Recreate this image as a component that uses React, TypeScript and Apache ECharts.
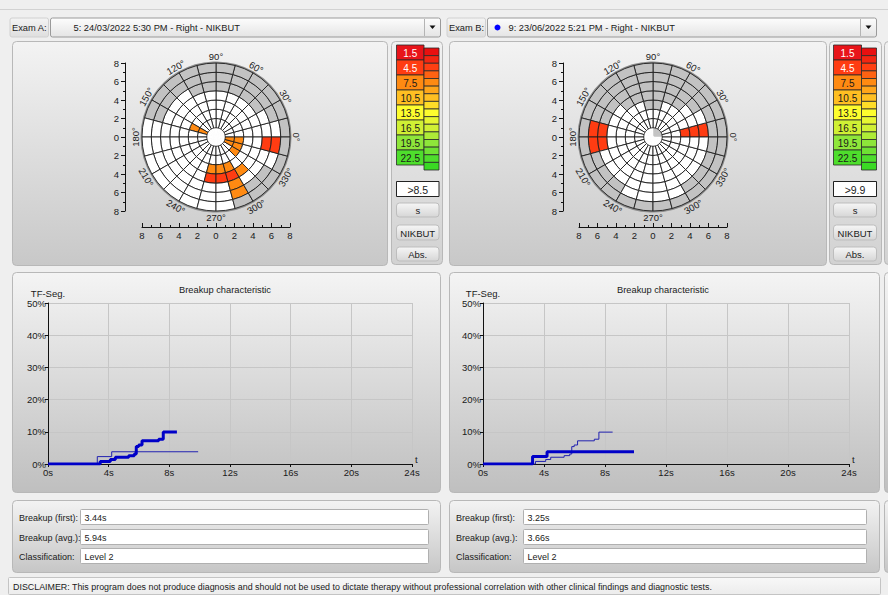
import React, { useEffect, useRef } from 'react';
import * as echarts from 'echarts';

const FONT = '"Liberation Sans", Arial, sans-serif';
const GRAY = '#c2c2c2';
const WHITE = '#ffffff';
const RINGS = 7;

// ---- colour scale (breakup time, s) ----
const scaleLabels = ['1.5', '4.5', '7.5', '10.5', '13.5', '16.5', '19.5', '22.5'];
const scaleColors = ['#e8141a', '#ff3c12', '#ff8a12', '#ffbf22', '#fdfd2e', '#d0f034', '#8ee63a', '#4ede2c'];
const stripColors = ['#e81010', '#f22612', '#ff3f12', '#ff6212', '#ff8a12', '#ffa51a', '#ffbf22', '#ffdd28',
  '#fdfd2e', '#e6f632', '#d0f034', '#aeeb37', '#8ee63a', '#6ee233', '#4ede2c', '#3ada24'];

// ---- map geometry: 24 sectors of 15 degrees ----
const sectorNames = ['0°', '15°', '30°', '45°', '60°', '75°', '90°', '105°', '120°', '135°', '150°', '165°',
  '180°', '195°', '210°', '225°', '240°', '255°', '270°', '285°', '300°', '315°', '330°', '345°'];
const angleLabels = [0, 30, 60, 90, 120, 150, 180, 210, 240, 270, 300, 330];

// Exam A map: number of outer rings not measured (gray) per sector, breakup cells [sector, ring, seconds]
const grayOuterA = [1, 2, 3, 3, 3, 3, 3, 3, 2, 2, 2, 0, 0, 0, 0, 0, 0, 0, 0, 1, 2, 2, 1, 1];
const hotCellsA = [
  [23, 4, 4.2], [23, 5, 4.3], [23, 0, 7.0], [23, 1, 7.1], [22, 0, 7.2], [22, 1, 7.3], [21, 1, 7.4],
  [10, 0, 7.5], [10, 1, 7.6], [17, 2, 6.5], [18, 2, 6.6], [17, 3, 3.5], [18, 3, 3.6],
  [19, 2, 6.7], [19, 3, 5.5], [19, 4, 6.9], [19, 5, 8.5], [20, 3, 7.0],
];
const coreGrayA: number[] = [];

// Exam B map
const grayOuterB = [2, 2, 3, 4, 4, 5, 5, 4, 4, 3, 3, 1, 1, 2, 2, 2, 1, 1, 1, 1, 2, 2, 2, 2];
const hotCellsB = [[0, 2, 4.4], [0, 3, 4.5], [0, 4, 4.6], [11, 4, 3.8], [11, 5, 3.9], [12, 4, 3.8], [12, 5, 3.9]];
const coreGrayB = [0, 1, 2, 3, 4, 5];

// ---- breakup characteristic (time s, TF-segments %) ----
const timeA = [0, 3.44, 4.11, 4.44, 5.32, 5.69, 5.82, 5.98, 6.2, 7.3, 7.6, 8.5];
const pctA = [0, 0.8, 1.4, 2.1, 2.6, 3.1, 5.4, 5.9, 7.2, 7.7, 9.9, 9.9];
const timeB = [0, 3.25, 4.2, 9.9];
const pctB = [0, 2.3, 3.8, 3.8];

// ---- info ----
const infoLabels = ['Breakup (first):', 'Breakup (avg.):', 'Classification:'];
const infoA = ['3.44s', '5.94s', 'Level 2'];
const infoB = ['3.25s', '3.66s', 'Level 2'];
const examA = '5: 24/03/2022 5:30 PM - Right - NIKBUT';
const examB = '9: 23/06/2022 5:21 PM - Right - NIKBUT';
const thresholdA = '>8.5';
const thresholdB = '>9.9';
const disclaimer = 'DISCLAIMER: This program does not produce diagnosis and should not be used to dictate therapy without professional correlation with other clinical findings and diagnostic tests.';

function grad(top: string, bottom: string) {
  return new echarts.graphic.LinearGradient(0, 0, 0, 1, [
    { offset: 0, color: top },
    { offset: 1, color: bottom },
  ]);
}

function rect(x: number, y: number, w: number, h: number, fill: any, stroke: string, r = 3, z = -10, lw = 1) {
  return { type: 'rect', z, silent: true, shape: { x, y, width: w, height: h, r }, style: { fill, stroke, lineWidth: lw } };
}

function text(x: number, y: number, t: string, size = 9, align = 'left', fill = '#1a1a1a', z = 10) {
  return {
    type: 'text', z, silent: true, x, y,
    style: { text: t, font: `${size}px ${FONT}`, fill, align, textAlign: align, verticalAlign: 'middle', textVerticalAlign: 'middle' },
  };
}

function legendElements(x0: number, thr: string, bw: number) {
  const els: any[] = [];
  const top = 45;
  const bh = 15;
  scaleLabels.forEach((lab, i) => {
    els.push(rect(x0, top + i * bh, bw, bh, scaleColors[i], '#2a2a2a', 0, -4, 0.8));
    els.push(text(x0 + bw / 2, top + i * bh + bh / 2 + 0.5, lab, 10, 'center', i < 2 ? '#ffffff' : '#1a1a1a'));
  });
  const sh = 7.625;
  stripColors.forEach((c, i) => els.push(rect(x0 + bw, 48 + i * sh, 15, sh, c, '#2a2a2a', 0, -4, 0.8)));
  const fw = bw + 15;
  els.push(rect(x0, 181.5, fw, 15, '#ffffff', '#222222', 0, -4, 1));
  els.push(text(x0 + fw / 2, 189.5, thr, 10.5, 'center'));
  const buttons: [string, number, number][] = [['s', 203, 14], ['NIKBUT', 225, 15], ['Abs.', 247, 14]];
  buttons.forEach(([lab, y, h]) => {
    els.push(rect(x0, y, fw, h, grad('#f6f6f6', '#d6d6d6'), '#bdbdbd', 3, -4, 1));
    els.push(text(x0 + fw / 2, y + h / 2 + 0.5, lab, 9.5, 'center'));
  });
  return els;
}

function comboElements(lx: number, bx: number, bw: number, label: string, value: string, dot: boolean) {
  const els: any[] = [];
  els.push(rect(lx - 2, 18, bx - lx, 19, grad('#f4f4f4', '#dedede'), '#d0d0d0', 2, -6, 1));
  els.push(text(lx, 27.5, label, 9.3));
  els.push(rect(bx, 18, bw, 19, grad('#fdfdfd', '#e4e4e4'), '#9a9a9a', 2, -5, 1));
  const sepX = bx + bw - 16;
  els.push({ type: 'line', z: -4, silent: true, shape: { x1: sepX, y1: 19, x2: sepX, y2: 36 }, style: { stroke: '#b4b4b4', lineWidth: 1 } });
  const cx = sepX + 8;
  els.push({ type: 'polygon', z: -4, silent: true, shape: { points: [[cx - 3, 25.5], [cx + 3, 25.5], [cx, 29]] }, style: { fill: '#111111' } });
  if (dot) {
    els.push({ type: 'circle', z: -4, silent: true, shape: { cx: bx + 10, cy: 27.5, r: 3 }, style: { fill: '#0000ff' } });
    els.push(text(bx + 21, 27.5, value, 9.3));
  } else {
    els.push(text(bx + 23, 27.5, value, 9.3));
  }
  return els;
}

function infoElements(px: number, bx: number, bw: number, values: string[]) {
  const els: any[] = [];
  const ys = [509.5, 529.5, 548.5];
  infoLabels.forEach((lab, i) => {
    els.push(text(px, ys[i] + 8, lab, 9));
    els.push(rect(bx, ys[i], bw, 15, '#ffffff', '#b0b0b0', 1, -4, 1));
    els.push(text(bx + 4, ys[i] + 8, values[i], 9));
  });
  return els;
}

function cellSeries(polarIndex: number, grayOuter: number[], hot: number[][], coreGray: number[], stack: string) {
  const colorOf = (k: number, ring: number) => {
    const h = hot.find((c) => c[0] === k && c[1] === ring);
    if (h) return scaleColors[Math.min(7, Math.floor(h[2] / 3))];
    return ring >= RINGS - grayOuter[k] ? GRAY : WHITE;
  };
  const list: any[] = [];
  list.push({
    type: 'bar', coordinateSystem: 'polar', polarIndex, stack, barCategoryGap: '0%', silent: true,
    data: sectorNames.map((_, k) => {
      const c = coreGray.includes(k) ? GRAY : WHITE;
      return { value: 1, itemStyle: { color: c, borderColor: c, borderWidth: 0.5 } };
    }),
  });
  for (let ring = 0; ring < RINGS; ring++) {
    list.push({
      type: 'bar', coordinateSystem: 'polar', polarIndex, stack, barCategoryGap: '0%', silent: true,
      itemStyle: { borderColor: '#1e1e1e', borderWidth: 0.9 },
      data: sectorNames.map((_, k) => ({ value: 1, itemStyle: { color: colorOf(k, ring) } })),
    });
  }
  return list;
}

function labelSeries(polarIndex: number) {
  return {
    type: 'custom', coordinateSystem: 'polar', polarIndex, silent: true,
    data: angleLabels.map((a) => [8.7, a]),
    renderItem: (params: any, api: any) => {
      const r = api.value(0);
      const a = api.value(1);
      const p = api.coord([r, a]);
      const deg = a <= 180 ? a - 90 : a - 270;
      return {
        type: 'text', x: p[0], y: p[1], rotation: (deg * Math.PI) / 180,
        style: { text: a + '°', font: `9.5px ${FONT}`, fill: '#1a1a1a', align: 'center', verticalAlign: 'middle' },
      };
    },
  };
}

const frameAxisLabel = { fontSize: 9.5, color: '#1a1a1a', fontFamily: FONT, formatter: (v: number) => String(Math.abs(v)) };
const blk = { color: '#111111' };

function frameY(gridIndex: number) {
  return {
    gridIndex, type: 'value', min: -8, max: 8, interval: 2,
    axisLine: { show: true, lineStyle: blk }, axisTick: { show: true, length: 4, lineStyle: blk },
    minorTick: { show: true, splitNumber: 2, length: 2, lineStyle: blk },
    axisLabel: { ...frameAxisLabel, margin: 6 }, splitLine: { show: false },
  };
}
function frameX(gridIndex: number) {
  return {
    gridIndex, type: 'value', min: -8, max: 8, interval: 2, position: 'bottom',
    axisLine: { show: true, lineStyle: blk }, axisTick: { show: true, inside: true, length: 4, lineStyle: blk },
    minorTick: { show: true, splitNumber: 2, length: 2, lineStyle: blk },
    axisLabel: { ...frameAxisLabel, margin: 3 }, splitLine: { show: false },
  };
}
function hidden(gridIndex: number) {
  return { gridIndex, type: 'value', show: false, min: 0, max: 1 };
}
function timeAxis(gridIndex: number) {
  return {
    gridIndex, type: 'value', min: 0, max: 24, interval: 4,
    axisLine: { show: true, lineStyle: blk }, axisTick: { show: true, length: 3, lineStyle: blk },
    axisLabel: { formatter: '{value}s', fontSize: 9.5, color: '#1a1a1a', margin: 3, fontFamily: FONT },
    splitLine: { show: true, lineStyle: { color: '#c6c6c6', width: 1 } },
    name: 't', nameLocation: 'end', nameGap: 3,
    nameTextStyle: { fontSize: 9.5, color: '#1a1a1a', verticalAlign: 'bottom', fontFamily: FONT },
  };
}
function pctAxis(gridIndex: number) {
  return {
    gridIndex, type: 'value', min: 0, max: 50, interval: 10,
    axisLine: { show: true, lineStyle: blk }, axisTick: { show: true, length: 3, lineStyle: blk },
    axisLabel: { formatter: '{value}%', fontSize: 9.5, color: '#1a1a1a', margin: 2, fontFamily: FONT },
    splitLine: { show: true, lineStyle: { color: '#c6c6c6', width: 1 } },
    name: 'TF-Seg.', nameLocation: 'end', nameGap: 3,
    nameTextStyle: { fontSize: 9.5, color: '#1a1a1a', align: 'center', verticalAlign: 'bottom', fontFamily: FONT },
  };
}

function curve(idx: number, t: number[], p: number[], bold: boolean) {
  return {
    type: 'line', xAxisIndex: idx, yAxisIndex: idx, step: 'end', showSymbol: false, silent: true,
    z: bold ? 6 : 5,
    lineStyle: { width: bold ? 3 : 1, color: bold ? '#0000c8' : '#2222b0' },
    data: t.map((v, i) => [v, p[i]]),
  };
}

function buildOption() {
  const elements: any[] = [
    rect(0, 0, 888, 595, '#efefef', '#efefef', 0, -20, 0),
    { type: 'line', z: -19, silent: true, shape: { x1: 0, y1: 9.5, x2: 888, y2: 9.5 }, style: { stroke: '#d2d2d2', lineWidth: 1 } },
    // panels
    rect(12.5, 41.5, 375, 224, grad('#f3f3f3', '#c8c8c8'), '#b8b8b8', 4),
    rect(391.5, 41.5, 51, 223, grad('#f1f1f1', '#d2d2d2'), '#b8b8b8', 4),
    rect(449.5, 41.5, 377, 224, grad('#f3f3f3', '#c8c8c8'), '#b8b8b8', 4),
    rect(829.5, 41.5, 52, 223, grad('#f1f1f1', '#d2d2d2'), '#b8b8b8', 4),
    rect(884.5, 41.5, 20, 223, grad('#f1f1f1', '#d2d2d2'), '#b8b8b8', 4),
    rect(12.5, 272.5, 428, 220, grad('#f4f4f4', '#bfbfbf'), '#b8b8b8', 4),
    rect(449.5, 272.5, 430, 220, grad('#f4f4f4', '#bfbfbf'), '#b8b8b8', 4),
    rect(884.5, 272.5, 20, 220, grad('#f4f4f4', '#bfbfbf'), '#b8b8b8', 4),
    rect(12.5, 500.5, 428, 72, grad('#f3f3f3', '#c6c6c6'), '#b8b8b8', 4),
    rect(449.5, 500.5, 430, 72, grad('#f3f3f3', '#c6c6c6'), '#b8b8b8', 4),
    rect(884.5, 500.5, 20, 72, grad('#f3f3f3', '#c6c6c6'), '#b8b8b8', 4),
    rect(8.5, 577.5, 872, 17, grad('#f8f8f8', '#ececec'), '#c4c4c4', 1),
    text(13, 587, disclaimer, 8.9),
    ...comboElements(12, 50.5, 390, 'Exam A:', examA, false),
    ...comboElements(449, 487.5, 389, 'Exam B:', examB, true),
    ...legendElements(396.5, thresholdA, 27.5),
    ...legendElements(833.5, thresholdB, 28),
    text(225, 289.5, 'Breakup characteristic', 9.3, 'center'),
    text(663, 289.5, 'Breakup characteristic', 9.3, 'center'),
    ...infoElements(19, 80.5, 348, infoA),
    ...infoElements(456, 523.5, 343, infoB),
  ];

  const catAngle = (polarIndex: number) => ({
    polarIndex, type: 'category', data: sectorNames, startAngle: 0, clockwise: false, boundaryGap: true,
    axisLine: { show: true, lineStyle: { color: '#8c8c8c', width: 3 } },
    axisTick: { show: false }, axisLabel: { show: false }, splitLine: { show: false }, splitArea: { show: false },
  });
  const valAngle = (polarIndex: number) => ({ polarIndex, type: 'value', min: 0, max: 360, startAngle: 0, clockwise: false, show: false });
  const rad = (polarIndex: number) => ({ polarIndex, type: 'value', min: 0, max: 8, show: false });

  return {
    animation: false,
    backgroundColor: '#efefef',
    textStyle: { fontFamily: FONT },
    graphic: { elements },
    polar: [
      { center: [216, 137], radius: 74 },
      { center: [216, 137], radius: 74 },
      { center: [653, 137], radius: 74 },
      { center: [653, 137], radius: 74 },
    ],
    angleAxis: [catAngle(0), valAngle(1), catAngle(2), valAngle(3)],
    radiusAxis: [rad(0), rad(1), rad(2), rad(3)],
    grid: [
      { left: 125, top: 63, width: 1, height: 148 },
      { left: 142, top: 226, width: 148, height: 1 },
      { left: 563, top: 63, width: 1, height: 148 },
      { left: 579, top: 226, width: 148, height: 1 },
      { left: 48, top: 303, width: 364, height: 161 },
      { left: 483, top: 303, width: 366, height: 161 },
    ],
    xAxis: [hidden(0), frameX(1), hidden(2), frameX(3), timeAxis(4), timeAxis(5)],
    yAxis: [frameY(0), hidden(1), frameY(2), hidden(3), pctAxis(4), pctAxis(5)],
    series: [
      ...cellSeries(0, grayOuterA, hotCellsA, coreGrayA, 'mapA'),
      labelSeries(1),
      ...cellSeries(2, grayOuterB, hotCellsB, coreGrayB, 'mapB'),
      labelSeries(3),
      curve(4, timeB, pctB, false),
      curve(4, timeA, pctA, true),
      curve(5, timeA, pctA, false),
      curve(5, timeB, pctB, true),
    ],
  };
}

export default function App() {
  const ref = useRef<HTMLDivElement>(null);
  useEffect(() => {
    document.body.style.margin = '0';
    document.body.style.background = '#efefef';
    const chart = echarts.init(ref.current as HTMLDivElement, null, { renderer: 'svg' });
    chart.setOption(buildOption() as any);
    return () => chart.dispose();
  }, []);
  return <div ref={ref} style={{ width: 888, height: 595 }} />;
}
